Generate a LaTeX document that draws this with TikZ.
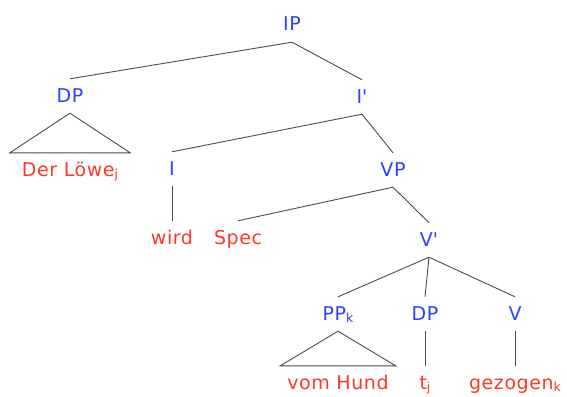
\documentclass[tikz,border=0pt]{standalone}
\usepackage{fontspec}
\setmainfont{DejaVu Sans}[LetterSpace=3]
\usepackage{xcolor}
\usepackage{tikz}
\usetikzlibrary{positioning}

\definecolor{catblue}{RGB}{45,65,255}
\definecolor{wordred}{RGB}{255,55,35}
\definecolor{edgegray}{RGB}{75,75,75}

% index under a label
\newcommand{\subidx}[1]{\raisebox{-2.5pt}{\fontsize{12.5}{13}\selectfont #1}}

\begin{document}
\begin{tikzpicture}[
    x=1pt, y=1pt,
    font=\fontsize{19}{22}\selectfont,
    treenode/.style={anchor=base, inner xsep=2pt, inner ysep=10pt, text height=13pt, text depth=1pt},
    cat/.style={treenode, text=catblue},
    word/.style={treenode, text=wordred},
    edge/.style={draw=edgegray, line width=0.9pt}
]
\useasboundingbox (0,0) rectangle (567,-396);

% Top of the tree
\node[cat] (ip) at (292,-31) {IP};
\node[cat] (dp1) at (70,-102) {DP};
\node[cat] (ibar) at (362,-103) {I\textquotesingle};

% Subject, under a triangle
\node[word, minimum width=120pt] (loewe) at (70,-176) {Der Löwe\subidx{j}};

% I and VP
\node[cat] (i) at (172,-175) {I};
\node[cat] (vp) at (393,-176) {VP};
\node[word] (wird) at (172,-244) {wird};
\node[word] (spec) at (238,-244) {Spec};
\node[cat] (vbar) at (429,-246) {V\textquotesingle};

% Lowest level
\node[cat] (pp) at (338,-320) {PP\subidx{k}};
\node[cat] (dp2) at (425,-320) {DP};
\node[cat] (v) at (515,-320) {V};
\node[word, minimum width=115pt] (hund) at (338,-389) {vom Hund};
\node[word] (trace) at (425,-389) {t\subidx{j}};
\node[word] (gezogen) at (515,-389) {gezogen\subidx{k}};

% Branches
\draw[edge] (ip.south) -- (dp1.north);
\draw[edge] (ip.south) -- (ibar.north);
\draw[edge] (dp1.south) -- (loewe.north west) -- (loewe.north east) -- cycle;
\draw[edge] (ibar.south) -- (i.north);
\draw[edge] (ibar.south) -- (vp.north);
\draw[edge] (i.south) -- (wird.north);
\draw[edge] (vp.south) -- (spec.north);
\draw[edge] (vp.south) -- (vbar.north);
\draw[edge] (vbar.south) -- (pp.north);
\draw[edge] (vbar.south) -- (dp2.north);
\draw[edge] (vbar.south) -- (v.north);
\draw[edge] (pp.south) -- (hund.north west) -- (hund.north east) -- cycle;
\draw[edge] (dp2.south) -- (trace.north);
\draw[edge] (v.south) -- (gezogen.north);

\end{tikzpicture}
\end{document}
